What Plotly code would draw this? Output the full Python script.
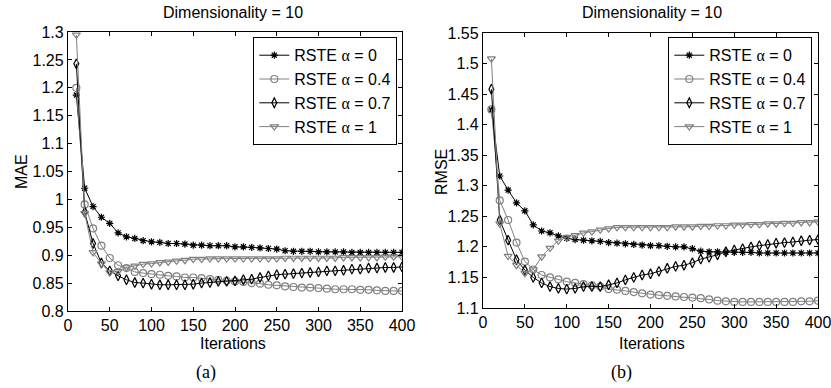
import plotly.graph_objects as go

iterations = [10, 20, 30, 40, 50, 60, 70, 80, 90, 100, 110, 120, 130, 140, 150, 160, 170, 180, 190, 200,
              210, 220, 230, 240, 250, 260, 270, 280, 290, 300, 310, 320, 330, 340, 350, 360, 370, 380, 390, 400]

series_names = ["RSTE α = 0", "RSTE α = 0.4", "RSTE α = 0.7", "RSTE α = 1"]

mae_a0 = [1.187, 1.020, 0.987, 0.968, 0.957, 0.940, 0.933, 0.930, 0.926, 0.924, 0.923, 0.921, 0.921, 0.920, 0.918,
          0.918, 0.917, 0.917, 0.917, 0.915, 0.915, 0.914, 0.913, 0.912, 0.911, 0.908, 0.907, 0.907, 0.907, 0.906,
          0.906, 0.906, 0.906, 0.905, 0.905, 0.905, 0.905, 0.905, 0.905, 0.905]
mae_a04 = [1.200, 0.991, 0.948, 0.917, 0.895, 0.882, 0.877, 0.870, 0.868, 0.866, 0.865, 0.863, 0.862, 0.860, 0.860,
           0.859, 0.857, 0.856, 0.854, 0.853, 0.852, 0.850, 0.849, 0.847, 0.846, 0.844, 0.843, 0.842, 0.842, 0.841,
           0.840, 0.839, 0.839, 0.839, 0.838, 0.838, 0.837, 0.836, 0.836, 0.836]
mae_a07 = [1.243, 0.977, 0.921, 0.886, 0.872, 0.863, 0.856, 0.851, 0.850, 0.848, 0.847, 0.847, 0.847, 0.847, 0.848,
           0.850, 0.851, 0.853, 0.853, 0.854, 0.856, 0.857, 0.860, 0.863, 0.865, 0.866, 0.867, 0.868, 0.869, 0.870,
           0.872, 0.872, 0.873, 0.875, 0.875, 0.877, 0.877, 0.878, 0.878, 0.879]
mae_a1 = [1.295, 0.975, 0.905, 0.885, 0.869, 0.871, 0.878, 0.881, 0.884, 0.885, 0.887, 0.888, 0.890, 0.891, 0.893,
          0.893, 0.894, 0.894, 0.894, 0.894, 0.894, 0.894, 0.894, 0.894, 0.894, 0.895, 0.895, 0.895, 0.895, 0.895,
          0.895, 0.895, 0.896, 0.896, 0.896, 0.896, 0.896, 0.897, 0.897, 0.897]

rmse_a0 = [1.424, 1.316, 1.293, 1.272, 1.259, 1.236, 1.226, 1.223, 1.218, 1.214, 1.212, 1.211, 1.210, 1.209, 1.207,
           1.206, 1.205, 1.204, 1.203, 1.202, 1.202, 1.201, 1.200, 1.200, 1.197, 1.193, 1.192, 1.192, 1.191, 1.191,
           1.191, 1.191, 1.190, 1.190, 1.190, 1.190, 1.190, 1.190, 1.190, 1.190]
rmse_a04 = [1.425, 1.276, 1.244, 1.207, 1.176, 1.163, 1.154, 1.150, 1.147, 1.143, 1.141, 1.139, 1.137, 1.135, 1.131,
            1.130, 1.128, 1.126, 1.124, 1.122, 1.121, 1.120, 1.119, 1.118, 1.117, 1.116, 1.114, 1.112, 1.111, 1.110,
            1.110, 1.110, 1.110, 1.110, 1.110, 1.110, 1.110, 1.111, 1.111, 1.112]
rmse_a07 = [1.458, 1.244, 1.211, 1.179, 1.162, 1.150, 1.141, 1.135, 1.132, 1.131, 1.132, 1.135, 1.135, 1.135, 1.138,
            1.141, 1.146, 1.150, 1.154, 1.156, 1.160, 1.165, 1.168, 1.170, 1.174, 1.180, 1.183, 1.187, 1.192, 1.195,
            1.197, 1.200, 1.202, 1.204, 1.206, 1.207, 1.208, 1.210, 1.211, 1.212]
rmse_a1 = [1.508, 1.238, 1.185, 1.170, 1.157, 1.163, 1.184, 1.198, 1.210, 1.216, 1.219, 1.223, 1.225, 1.228, 1.230,
           1.232, 1.232, 1.232, 1.232, 1.232, 1.232, 1.232, 1.233, 1.233, 1.233, 1.234, 1.234, 1.235, 1.235, 1.236,
           1.236, 1.237, 1.237, 1.238, 1.238, 1.239, 1.239, 1.240, 1.240, 1.241]

x_ticks = [0, 50, 100, 150, 200, 250, 300, 350, 400]
mae_ticks = [0.8, 0.85, 0.9, 0.95, 1, 1.05, 1.1, 1.15, 1.2, 1.25, 1.3]
mae_ticklabels = ["0.8", "0.85", "0.9", "0.95", "1", "1.05", "1.1", "1.15", "1.2", "1.25", "1.3"]
rmse_ticks = [1.1, 1.15, 1.2, 1.25, 1.3, 1.35, 1.4, 1.45, 1.5, 1.55]
rmse_ticklabels = ["1.1", "1.15", "1.2", "1.25", "1.3", "1.35", "1.4", "1.45", "1.5", "1.55"]

BLACK = "#000000"
GRAY = "#808080"
styles = [
    dict(color=BLACK, symbol="asterisk-open", size=6),
    dict(color=GRAY, symbol="circle-open", size=7),
    dict(color=BLACK, symbol="diamond-tall-open", size=7),
    dict(color=GRAY, symbol="triangle-down-open", size=7),
]

FONT = "Liberation Sans, Arial, sans-serif"
SERIF = "Liberation Serif, Times New Roman, serif"


def legend_label(name):
    return name.replace("α", "<span style='font-family:Liberation Serif'>α</span>")


fig = go.Figure()

for name, ys, st in zip(series_names, [mae_a0, mae_a04, mae_a07, mae_a1], styles):
    fig.add_trace(go.Scatter(
        x=iterations, y=ys, mode="lines+markers", name=legend_label(name),
        line=dict(color=st["color"], width=1),
        marker=dict(symbol=st["symbol"], size=st["size"], color=st["color"],
                    line=dict(color=st["color"], width=1.2)),
        xaxis="x", yaxis="y", legend="legend"))

for name, ys, st in zip(series_names, [rmse_a0, rmse_a04, rmse_a07, rmse_a1], styles):
    fig.add_trace(go.Scatter(
        x=iterations, y=ys, mode="lines+markers", name=legend_label(name),
        line=dict(color=st["color"], width=1),
        marker=dict(symbol=st["symbol"], size=st["size"], color=st["color"],
                    line=dict(color=st["color"], width=1.2)),
        xaxis="x2", yaxis="y2", legend="legend2"))

W, H = 831, 388
axis_common = dict(showgrid=False, zeroline=False, showline=True, linecolor=BLACK, linewidth=1.3,
                   mirror="ticks", ticks="inside", ticklen=4, tickwidth=1, tickcolor=BLACK,
                   automargin=False, ticklabeloverflow="allow",
                   tickfont=dict(family=FONT, size=16, color=BLACK))

legend_common = dict(yanchor="top", xanchor="right", bgcolor="white", bordercolor=BLACK, borderwidth=1.3,
                     font=dict(family=FONT, size=16, color=BLACK), tracegroupgap=0, itemwidth=30)

fig.update_layout(
    width=W, height=H,
    autosize=False,
    margin=dict(l=0, r=0, t=0, b=0, pad=0, autoexpand=False),
    paper_bgcolor="white", plot_bgcolor="white",
    font=dict(family=FONT, color=BLACK),
    xaxis=dict(domain=[68 / W, 402 / W], range=[0, 400], tickvals=x_ticks, anchor="y", **axis_common),
    yaxis=dict(domain=[1 - 311 / H, 1 - 32 / H], range=[0.8, 1.3], tickvals=mae_ticks,
               ticktext=mae_ticklabels, anchor="x", **axis_common),
    xaxis2=dict(domain=[483 / W, 818 / W], range=[0, 400], tickvals=x_ticks, anchor="y2", **axis_common),
    yaxis2=dict(domain=[1 - 308 / H, 1 - 33 / H], range=[1.1, 1.55], tickvals=rmse_ticks,
                ticktext=rmse_ticklabels, anchor="x2", **axis_common),
    legend=dict(x=397 / W, y=1 - 37 / H, **legend_common),
    legend2=dict(x=812 / W, y=1 - 37 / H, **legend_common),
    showlegend=True,
)

annots = [
    dict(text="Dimensionality = 10", x=233 / W, y=1 - 13 / H, size=16, family=FONT, angle=0),
    dict(text="Dimensionality = 10", x=652 / W, y=1 - 13 / H, size=16, family=FONT, angle=0),
    dict(text="Iterations", x=233 / W, y=1 - 343 / H, size=16, family=FONT, angle=0),
    dict(text="Iterations", x=652 / W, y=1 - 343 / H, size=16, family=FONT, angle=0),
    dict(text="MAE", x=21 / W, y=1 - 172 / H, size=16, family=FONT, angle=-90),
    dict(text="RMSE", x=441 / W, y=1 - 172 / H, size=16, family=FONT, angle=-90),
    dict(text="(a)", x=206 / W, y=1 - 372 / H, size=18, family=SERIF, angle=0),
    dict(text="(b)", x=621 / W, y=1 - 372 / H, size=18, family=SERIF, angle=0),
]
for a in annots:
    fig.add_annotation(text=a["text"], x=a["x"], y=a["y"], xref="paper", yref="paper",
                       xanchor="center", yanchor="middle", showarrow=False, textangle=a["angle"],
                       font=dict(family=a["family"], size=a["size"], color=BLACK))

fig.write_html("out.html", config={"displayModeBar": False},
               post_script="document.body.style.margin='0';document.body.style.overflow='hidden';")
